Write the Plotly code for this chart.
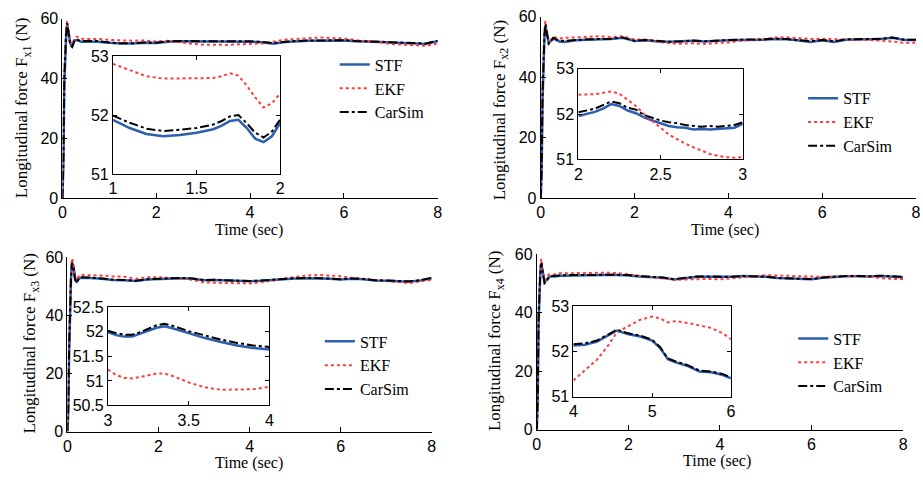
import plotly.graph_objects as go

# ---------------- data ----------------
T_MAIN = [0, 0.02, 0.04, 0.06, 0.08, 0.1, 0.13, 0.17, 0.21, 0.26, 0.3, 0.4,
          0.5, 0.75, 1.0, 1.25, 1.5, 1.75, 2.0, 2.25, 2.5, 2.75, 3.0, 3.25, 3.5, 3.75,
          4.0, 4.25, 4.5, 4.75, 5.0, 5.25, 5.5, 5.75, 6.0, 6.25, 6.5, 6.75, 7.0, 7.25,
          7.5, 7.75, 8.0]

# Panel 1 (Fx1)
car_1 = [0, 12, 40, 50, 55, 58.5, 55, 51, 50.5, 52.8, 53, 52.5,
         52.5, 52.5, 51.99, 51.73, 51.78, 52.0, 51.93, 52.4, 52.5, 52.5, 52.5, 52.4, 52.3, 52.4,
         52.4, 52.2, 51.8, 52.3, 52.6, 52.7, 52.7, 52.7, 52.8, 52.5, 52.5, 52.3, 52.1, 52.0,
         51.9, 51.7, 52.6]
stf_1 = [0, 11, 38, 49, 54.5, 58, 55.5, 51.5, 51, 52.8, 52.8, 52.3,
         52.3, 52.3, 51.92, 51.65, 51.7, 51.92, 51.87, 52.3, 52.4, 52.4, 52.4, 52.3, 52.2, 52.3,
         52.3, 52.1, 51.6, 52.2, 52.5, 52.6, 52.6, 52.6, 52.7, 52.4, 52.4, 52.2, 52.0, 51.9,
         51.7, 51.5, 52.5]
ekf_1 = [0, 13, 42, 52, 57, 59.3, 56, 52, 51.5, 53.5, 54, 53.3,
         53.2, 53.2, 52.87, 52.62, 52.62, 52.67, 52.37, 52.6, 52.0, 51.6, 51.3, 51.2, 51.2, 51.4,
         51.6, 51.7, 52.3, 53.0, 53.2, 53.5, 53.7, 53.5, 53.4, 52.8, 52.6, 52.2, 51.5, 51.3,
         51.0, 50.9, 51.7]

# Panel 2 (Fx2)
car_2 = [0, 10, 35, 48, 54, 57.5, 55, 51, 51.5, 53, 52.8, 52.0,
         52.0, 52.3, 52.5, 52.6, 52.7, 53.1, 52.05, 52.25, 51.9, 51.72, 51.82, 52.1, 51.9, 52.2,
         52.3, 52.4, 52.4, 52.5, 52.7, 52.6, 52.2, 51.9, 52.3, 51.8, 52.5, 52.6, 52.6, 52.7,
         53.1, 52.4, 52.4]
stf_2 = [0, 9, 33, 47, 53.5, 57, 55, 51.5, 51.8, 52.8, 52.5, 51.8,
         51.6, 52.2, 52.4, 52.5, 52.6, 53.0, 51.96, 52.18, 51.8, 51.67, 51.79, 52.0, 51.8, 52.1,
         52.2, 52.3, 52.3, 52.4, 52.6, 52.5, 52.1, 51.6, 52.2, 51.6, 52.4, 52.5, 52.5, 52.6,
         53.0, 52.3, 52.3]
ekf_2 = [0, 11, 37, 50, 55.5, 58.5, 55.5, 52, 52, 53.2, 53.2, 52.8,
         53.0, 53.1, 53.4, 53.5, 53.3, 53.5, 52.43, 52.45, 51.7, 51.19, 51.05, 51.2, 51.0, 51.2,
         51.5, 52.0, 52.2, 52.6, 53.1, 53.2, 52.9, 52.6, 52.7, 52.5, 52.5, 52.3, 52.3, 52.1,
         51.8, 51.3, 51.4]

# Panel 3 (Fx3)
car_3 = [0, 8, 30, 46, 53, 58, 57, 52, 51, 53, 53, 52.8,
         52.9, 52.6, 52.2, 52.1, 51.8, 52.3, 52.5, 52.7, 52.8, 52.6, 52.02, 52.12, 52.0, 51.8,
         51.69, 51.9, 52.2, 52.5, 52.7, 52.8, 52.8, 52.6, 52.3, 52.6, 52.4, 52.0, 51.9, 51.8,
         51.6, 52.0, 52.8]
stf_3 = [0, 7, 28, 45, 52.5, 57.5, 57, 52.5, 51.5, 52.8, 52.8, 52.6,
         52.8, 52.5, 52.1, 52.0, 51.7, 52.2, 52.4, 52.6, 52.7, 52.5, 51.99, 52.07, 51.95, 51.75,
         51.64, 51.8, 52.1, 52.4, 52.6, 52.7, 52.7, 52.5, 52.2, 52.5, 52.3, 51.9, 51.8, 51.7,
         51.5, 51.9, 52.7]
ekf_3 = [0, 9, 32, 48, 55, 59.5, 58, 53, 52, 53.8, 53.8, 53.6,
         53.6, 53.6, 53.3, 53.2, 52.5, 53.0, 53.0, 52.9, 52.6, 52.1, 51.23, 51.12, 50.97, 50.82,
         50.88, 51.3, 51.8, 52.6, 53.2, 53.6, 53.8, 53.7, 53.4, 52.8, 52.4, 52.0, 51.6, 51.2,
         51.0, 51.6, 52.1]

# Panel 4 (Fx4)
car_4 = [0, 10, 38, 50, 55, 57, 54, 50, 50.5, 52, 52.5, 52.5,
         52.7, 52.8, 52.9, 52.9, 52.9, 52.9, 52.8, 52.4, 52.3, 52.0, 51.4, 51.8, 52.3, 52.3,
         52.16, 52.25, 52.47, 52.33, 52.25, 51.8, 51.68, 51.56, 51.43, 52.0, 52.3, 52.5, 52.5, 52.4,
         52.6, 52.3, 52.2]
stf_4 = [0, 9, 36, 49, 54.5, 56.5, 54, 50.5, 51, 52, 52.3, 52.3,
         52.6, 52.7, 52.8, 52.8, 52.8, 52.8, 52.7, 52.3, 52.2, 51.9, 51.3, 51.7, 52.2, 52.2,
         52.13, 52.22, 52.45, 52.31, 52.23, 51.78, 51.66, 51.54, 51.41, 51.9, 52.2, 52.4, 52.4, 52.3,
         52.5, 52.2, 52.1]
ekf_4 = [0, 11, 40, 52, 56.5, 58.3, 55, 51, 51.5, 53, 53, 53,
         53.4, 53.5, 53.6, 53.7, 53.6, 53.5, 53.0, 52.5, 52.0, 51.6, 51.2, 51.3, 51.5, 51.5,
         51.36, 51.72, 52.3, 52.66, 52.77, 52.66, 52.6, 52.52, 52.27, 52.2, 52.4, 52.5, 52.6, 52.4,
         51.8, 51.5, 51.5]

# Inset (zoomed) data
t_in1 = [1.0, 1.1, 1.2, 1.3, 1.4, 1.5, 1.6, 1.65, 1.7, 1.75, 1.8, 1.85, 1.9, 1.95, 2.0]
ekf_in1 = [52.87, 52.76, 52.66, 52.62, 52.62, 52.62, 52.63, 52.66, 52.71, 52.67, 52.5, 52.3, 52.13, 52.2, 52.37]
car_in1 = [51.99, 51.87, 51.77, 51.73, 51.75, 51.78, 51.84, 51.9, 51.98, 52.0, 51.86, 51.7, 51.62, 51.72, 51.93]
stf_in1 = [51.92, 51.78, 51.68, 51.64, 51.66, 51.7, 51.76, 51.82, 51.9, 51.92, 51.78, 51.6, 51.54, 51.64, 51.87]

t_in2 = [2.0, 2.05, 2.1, 2.15, 2.2, 2.25, 2.3, 2.35, 2.4, 2.45, 2.5, 2.55, 2.6, 2.65, 2.7,
         2.75, 2.8, 2.85, 2.9, 2.95, 3.0]
ekf_in2 = [52.43, 52.43, 52.44, 52.47, 52.5, 52.45, 52.32, 52.18, 52.0, 51.85, 51.7, 51.55, 51.45,
           51.35, 51.27, 51.19, 51.12, 51.08, 51.05, 51.04, 51.05]
car_in2 = [52.04, 52.08, 52.12, 52.2, 52.28, 52.24, 52.14, 52.1, 51.98, 51.92, 51.86, 51.82, 51.8,
           51.76, 51.74, 51.72, 51.74, 51.72, 51.74, 51.76, 51.82]
stf_in2 = [51.96, 52.0, 52.05, 52.12, 52.22, 52.18, 52.08, 52.02, 51.93, 51.86, 51.8, 51.74, 51.71,
           51.7, 51.66, 51.67, 51.66, 51.67, 51.68, 51.7, 51.79]

t_in3 = [3.0, 3.05, 3.1, 3.15, 3.2, 3.25, 3.3, 3.35, 3.4, 3.5, 3.6, 3.7, 3.8, 3.9, 4.0]
car_in3 = [52.02, 51.97, 51.94, 51.94, 51.99, 52.06, 52.13, 52.16, 52.12, 52.01, 51.92, 51.84, 51.77, 51.72, 51.69]
stf_in3 = [51.99, 51.93, 51.9, 51.9, 51.96, 52.02, 52.08, 52.11, 52.07, 51.97, 51.87, 51.79, 51.72, 51.67, 51.64]
ekf_in3 = [51.23, 51.12, 51.06, 51.05, 51.08, 51.12, 51.15, 51.15, 51.1, 50.97, 50.87, 50.82, 50.82, 50.83, 50.88]

t_in4 = [4.0, 4.15, 4.3, 4.45, 4.55, 4.7, 4.85, 5.0, 5.1, 5.2, 5.3, 5.45, 5.6, 5.75, 5.9, 6.0]
ekf_in4 = [51.36, 51.58, 51.82, 52.15, 52.42, 52.56, 52.7, 52.77, 52.73, 52.64, 52.67, 52.63, 52.57, 52.52, 52.4, 52.27]
car_in4 = [52.16, 52.18, 52.24, 52.38, 52.48, 52.4, 52.35, 52.26, 52.1, 51.85, 51.78, 51.7, 51.58, 51.56, 51.5, 51.43]
stf_in4 = [52.13, 52.15, 52.22, 52.36, 52.46, 52.38, 52.33, 52.24, 52.08, 51.83, 51.76, 51.68, 51.56, 51.54, 51.48, 51.41]

SERIES_NAMES = ["STF", "EKF", "CarSim"]
Y_TITLES = ["Longitudinal force F<sub>x1</sub> (N)", "Longitudinal force F<sub>x2</sub> (N)",
            "Longitudinal force F<sub>x3</sub> (N)", "Longitudinal force F<sub>x4</sub> (N)"]
X_TITLE = "Time (sec)"
MAIN_XTICKS = [0, 2, 4, 6, 8]
MAIN_YTICKS = [0, 20, 40, 60]
INSET_XRANGES = [[1, 2], [2, 3], [3, 4], [4, 6]]
INSET_YRANGES = [[51, 53], [51, 53], [50.5, 52.5], [51, 53]]
INSET_XTICKS = [[1, 1.5, 2], [2, 2.5, 3], [3, 3.5, 4], [4, 5, 6]]
INSET_YTICKS = [[51, 52, 53], [51, 52, 53], [50.5, 51, 51.5, 52, 52.5], [51, 52, 53]]

main_data = [(stf_1, ekf_1, car_1), (stf_2, ekf_2, car_2), (stf_3, ekf_3, car_3), (stf_4, ekf_4, car_4)]
inset_data = [(t_in1, stf_in1, ekf_in1, car_in1), (t_in2, stf_in2, ekf_in2, car_in2),
              (t_in3, stf_in3, ekf_in3, car_in3), (t_in4, stf_in4, ekf_in4, car_in4)]

# ---------------- layout geometry (pixels) ----------------
W, H = 923, 483
MAIN_BOX = [(59, 438, 11, 197), (542, 921, 9, 197), (64, 432, 258, 439), (538, 908, 255, 437)]
INSET_BOX = [(110, 279, 50, 172), (580, 746, 63, 157), (105, 268, 310, 412), (575, 734, 309, 403)]
LEGEND_POS = [(334, 41), (807, 76), (319, 328), (797, 325)]
YTITLE_POS = [(20, 104), (502, 106), (27, 348), (497, 345)]
XTITLE_POS = [(247, 230), (728, 230), (247, 472), (720, 470)]

STYLE = {
    "STF": dict(color="#2c5faf", width=2.5, dash="solid"),
    "EKF": dict(color="#ff3c3c", width=2, dash="dot"),
    "CarSim": dict(color="#000000", width=2, dash="dashdot"),
}

TICKFONT = dict(family="Liberation Sans, Arial, sans-serif", size=16, color="black")
SERIF = "Liberation Serif, Times New Roman, serif"


def dx(a, b):
    return [a / W, b / W]


def dy(top, bottom):
    return [1 - bottom / H, 1 - top / H]


fig = go.Figure()
layout = dict(width=W, height=H, margin=dict(l=0, r=0, t=0, b=0),
              paper_bgcolor="white", plot_bgcolor="rgba(0,0,0,0)", showlegend=True,
              annotations=[])

for i in range(4):
    k = i + 1
    lk = "legend" if k == 1 else f"legend{k}"
    stf, ekf, car = main_data[i]
    for name, vals in zip(SERIES_NAMES, (stf, ekf, car)):
        s = STYLE[name]
        fig.add_trace(go.Scatter(x=T_MAIN, y=vals, mode="lines", name=name,
                                 line=dict(color=s["color"], width=s["width"], dash=s["dash"]),
                                 xaxis=f"x{k}", yaxis=f"y{k}", legend=lk, showlegend=True))
    ti, si, ei, ci = inset_data[i]
    for name, vals in zip(SERIES_NAMES, (si, ei, ci)):
        s = STYLE[name]
        fig.add_trace(go.Scatter(x=ti, y=vals, mode="lines", name=name,
                                 line=dict(color=s["color"], width=s["width"], dash=s["dash"]),
                                 xaxis=f"x{k+4}", yaxis=f"y{k+4}", showlegend=False))

    x0, x1, y0, y1 = MAIN_BOX[i]
    axcommon = dict(showline=True, linecolor="black", linewidth=1, ticks="inside", ticklen=5,
                    tickcolor="black", showgrid=False, zeroline=False, tickfont=TICKFONT)
    layout[f"xaxis{k}"] = dict(domain=dx(x0, x1), range=[0, 8], tickvals=MAIN_XTICKS,
                               anchor=f"y{k}", mirror=False, **axcommon)
    layout[f"yaxis{k}"] = dict(domain=dy(y0, y1), range=[0, 60], tickvals=MAIN_YTICKS,
                               anchor=f"x{k}", mirror=False, **axcommon)

    a0, a1, b0, b1 = INSET_BOX[i]
    incommon = dict(showline=True, linecolor="black", linewidth=1, ticks="inside", ticklen=4,
                    tickcolor="black", showgrid=False, zeroline=False, tickfont=TICKFONT,
                    mirror="ticks")
    layout[f"xaxis{k+4}"] = dict(domain=dx(a0, a1), range=INSET_XRANGES[i], tickvals=INSET_XTICKS[i],
                                 anchor=f"y{k+4}", **incommon)
    layout[f"yaxis{k+4}"] = dict(domain=dy(b0, b1), range=INSET_YRANGES[i], tickvals=INSET_YTICKS[i],
                                 anchor=f"x{k+4}", **incommon)

    lx, ly = LEGEND_POS[i]
    layout[lk] = dict(x=lx / W, y=1 - ly / H, xanchor="left", yanchor="top",
                      bgcolor="rgba(0,0,0,0)", borderwidth=0,
                      font=dict(family=SERIF, size=16, color="black"),
                      tracegroupgap=0, itemwidth=30)

    tx, ty = YTITLE_POS[i]
    layout["annotations"].append(dict(text=Y_TITLES[i], x=tx / W, y=1 - ty / H, xref="paper",
                                      yref="paper", showarrow=False, textangle=-90,
                                      xanchor="center", yanchor="middle",
                                      font=dict(family=SERIF, size=17, color="black")))
    qx, qy = XTITLE_POS[i]
    layout["annotations"].append(dict(text=X_TITLE, x=qx / W, y=1 - qy / H, xref="paper",
                                      yref="paper", showarrow=False,
                                      xanchor="center", yanchor="middle",
                                      font=dict(family=SERIF, size=16, color="black")))

fig.update_layout(**layout)
fig.write_html("out.html")
